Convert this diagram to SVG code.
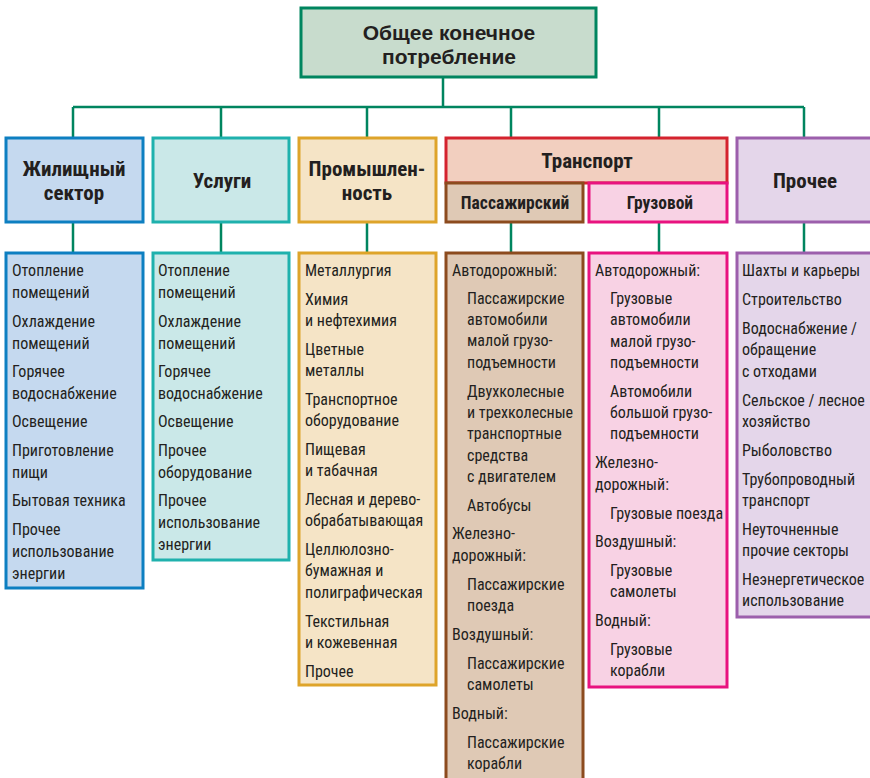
<svg xmlns="http://www.w3.org/2000/svg" width="870" height="778" viewBox="0 0 870 778">
<style>
text{font-family:'Liberation Sans Narrow','Roboto Condensed','DejaVu Sans Condensed','Liberation Sans',sans-serif;font-stretch:condensed;fill:#231f20}
.t{font-family:'Liberation Sans',Arial,sans-serif;font-stretch:normal;font-weight:bold;font-size:21px;text-anchor:middle}
.h{font-weight:bold;font-size:21px;text-anchor:middle}
.hs{font-weight:bold;font-size:17.5px;text-anchor:middle}
.d{font-size:16px}
.ln{stroke:#00855f;stroke-width:2.5;fill:none}
rect{stroke-width:3}
</style>
<g id="connectors">
<path class="ln" d="M443 77V107M73 107H804M73 107V138M221 107V138M367 107V138M511 107V138M659 107V138M804 107V138"/>
<path class="ln" d="M73 222V253M221 222V253M367 222V253M511 222V253M659 222V253M804 222V253"/>
</g>
<g id="root">
<rect x="301" y="8" width="295" height="69" fill="#c8dccd" stroke="#00855f"/>
<text class="t" x="449" y="40">Общее конечное</text>
<text class="t" x="449" y="64">потребление</text>
</g>
<g id="zhil">
<rect x="6" y="138" width="137" height="84" fill="#c5d9ef" stroke="#0d7fc1"/>
<text class="h" x="74" y="176">Жилищный</text>
<text class="h" x="74" y="200">сектор</text>
</g>
<g id="uslugi">
<rect x="153" y="138" width="136" height="84" fill="#cae8e8" stroke="#1fb1ad"/>
<text class="h" x="222" y="188">Услуги</text>
</g>
<g id="prom">
<rect x="299" y="138" width="137" height="84" fill="#f5e4c6" stroke="#dea42a"/>
<text class="h" x="367" y="176">Промышлен-</text>
<text class="h" x="367" y="200">ность</text>
</g>
<g id="transport">
<rect x="446" y="138" width="281" height="45" fill="#f2cfbf" stroke="#d4232e"/>
<text class="h" x="587" y="168">Транспорт</text>
</g>
<g id="pass">
<rect x="446" y="183" width="137" height="39" fill="#dfc9b5" stroke="#8c4b1e"/>
<text class="hs" x="515" y="209">Пассажирский</text>
</g>
<g id="gruz">
<rect x="589" y="183" width="138" height="39" fill="#f8d2e4" stroke="#e8137f"/>
<text class="hs" x="660" y="209">Грузовой</text>
</g>
<g id="proch">
<rect x="737" y="138" width="140" height="84" fill="#e4d6ea" stroke="#9c5fac"/>
<text class="h" x="805" y="188">Прочее</text>
</g>
<g id="zhil-list">
<rect x="6" y="253" width="137" height="335" fill="#c5d9ef" stroke="#0d7fc1"/>
<text class="d" x="12" y="276">Отопление</text>
<text class="d" x="12" y="298">помещений</text>
<text class="d" x="12" y="327">Охлаждение</text>
<text class="d" x="12" y="349">помещений</text>
<text class="d" x="12" y="377">Горячее</text>
<text class="d" x="12" y="399">водоснабжение</text>
<text class="d" x="12" y="427">Освещение</text>
<text class="d" x="12" y="456">Приготовление</text>
<text class="d" x="12" y="478">пищи</text>
<text class="d" x="12" y="506">Бытовая техника</text>
<text class="d" x="12" y="535">Прочее</text>
<text class="d" x="12" y="557">использование</text>
<text class="d" x="12" y="579">энергии</text>
</g>
<g id="uslugi-list">
<rect x="153" y="253" width="136" height="307" fill="#cae8e8" stroke="#1fb1ad"/>
<text class="d" x="158" y="276">Отопление</text>
<text class="d" x="158" y="298">помещений</text>
<text class="d" x="158" y="327">Охлаждение</text>
<text class="d" x="158" y="349">помещений</text>
<text class="d" x="158" y="377">Горячее</text>
<text class="d" x="158" y="399">водоснабжение</text>
<text class="d" x="158" y="427">Освещение</text>
<text class="d" x="158" y="456">Прочее</text>
<text class="d" x="158" y="478">оборудование</text>
<text class="d" x="158" y="506">Прочее</text>
<text class="d" x="158" y="528">использование</text>
<text class="d" x="158" y="550">энергии</text>
</g>
<g id="prom-list">
<rect x="299" y="253" width="137" height="432" fill="#f5e4c6" stroke="#dea42a"/>
<text class="d" x="305" y="276">Металлургия</text>
<text class="d" x="305" y="305">Химия</text>
<text class="d" x="305" y="326">и нефтехимия</text>
<text class="d" x="305" y="355">Цветные</text>
<text class="d" x="305" y="376">металлы</text>
<text class="d" x="305" y="405">Транспортное</text>
<text class="d" x="305" y="426">оборудование</text>
<text class="d" x="305" y="455">Пищевая</text>
<text class="d" x="305" y="476">и табачная</text>
<text class="d" x="305" y="505">Лесная и дерево-</text>
<text class="d" x="305" y="526">обрабатывающая</text>
<text class="d" x="305" y="555">Целлюлозно-</text>
<text class="d" x="305" y="576">бумажная и</text>
<text class="d" x="305" y="598">полиграфическая</text>
<text class="d" x="305" y="627">Текстильная</text>
<text class="d" x="305" y="648">и кожевенная</text>
<text class="d" x="305" y="677">Прочее</text>
</g>
<g id="pass-list">
<rect x="446" y="253" width="137" height="540" fill="#dfc9b5" stroke="#8c4b1e"/>
<text class="d" x="452" y="276">Автодорожный:</text>
<text class="d" x="467" y="304">Пассажирские</text>
<text class="d" x="467" y="325">автомобили</text>
<text class="d" x="467" y="346">малой грузо-</text>
<text class="d" x="467" y="368">подъемности</text>
<text class="d" x="467" y="397">Двухколесные</text>
<text class="d" x="467" y="418">и трехколесные</text>
<text class="d" x="467" y="439">транспортные</text>
<text class="d" x="467" y="461">средства</text>
<text class="d" x="467" y="482">с двигателем</text>
<text class="d" x="467" y="511">Автобусы</text>
<text class="d" x="452" y="539">Железно-</text>
<text class="d" x="452" y="561">дорожный:</text>
<text class="d" x="467" y="590">Пассажирские</text>
<text class="d" x="467" y="611">поезда</text>
<text class="d" x="452" y="640">Воздушный:</text>
<text class="d" x="467" y="669">Пассажирские</text>
<text class="d" x="467" y="690">самолеты</text>
<text class="d" x="452" y="719">Водный:</text>
<text class="d" x="467" y="748">Пассажирские</text>
<text class="d" x="467" y="769">корабли</text>
</g>
<g id="gruz-list">
<rect x="589" y="253" width="138" height="434" fill="#f8d2e4" stroke="#e8137f"/>
<text class="d" x="595" y="276">Автодорожный:</text>
<text class="d" x="610" y="304">Грузовые</text>
<text class="d" x="610" y="325">автомобили</text>
<text class="d" x="610" y="347">малой грузо-</text>
<text class="d" x="610" y="368">подъемности</text>
<text class="d" x="610" y="397">Автомобили</text>
<text class="d" x="610" y="418">большой грузо-</text>
<text class="d" x="610" y="439">подъемности</text>
<text class="d" x="595" y="468">Железно-</text>
<text class="d" x="595" y="490">дорожный:</text>
<text class="d" x="610" y="519">Грузовые поезда</text>
<text class="d" x="595" y="547">Воздушный:</text>
<text class="d" x="610" y="576">Грузовые</text>
<text class="d" x="610" y="597">самолеты</text>
<text class="d" x="595" y="626">Водный:</text>
<text class="d" x="610" y="655">Грузовые</text>
<text class="d" x="610" y="676">корабли</text>
</g>
<g id="proch-list">
<rect x="737" y="253" width="140" height="364" fill="#e4d6ea" stroke="#9c5fac"/>
<text class="d" x="742" y="276">Шахты и карьеры</text>
<text class="d" x="742" y="305">Строительство</text>
<text class="d" x="742" y="334">Водоснабжение /</text>
<text class="d" x="742" y="355">обращение</text>
<text class="d" x="742" y="377">с отходами</text>
<text class="d" x="742" y="406">Сельское / лесное</text>
<text class="d" x="742" y="427">хозяйство</text>
<text class="d" x="742" y="456">Рыболовство</text>
<text class="d" x="742" y="485">Трубопроводный</text>
<text class="d" x="742" y="506">транспорт</text>
<text class="d" x="742" y="535">Неуточненные</text>
<text class="d" x="742" y="556">прочие секторы</text>
<text class="d" x="742" y="585">Неэнергетическое</text>
<text class="d" x="742" y="606">использование</text>
</g>
</svg>
